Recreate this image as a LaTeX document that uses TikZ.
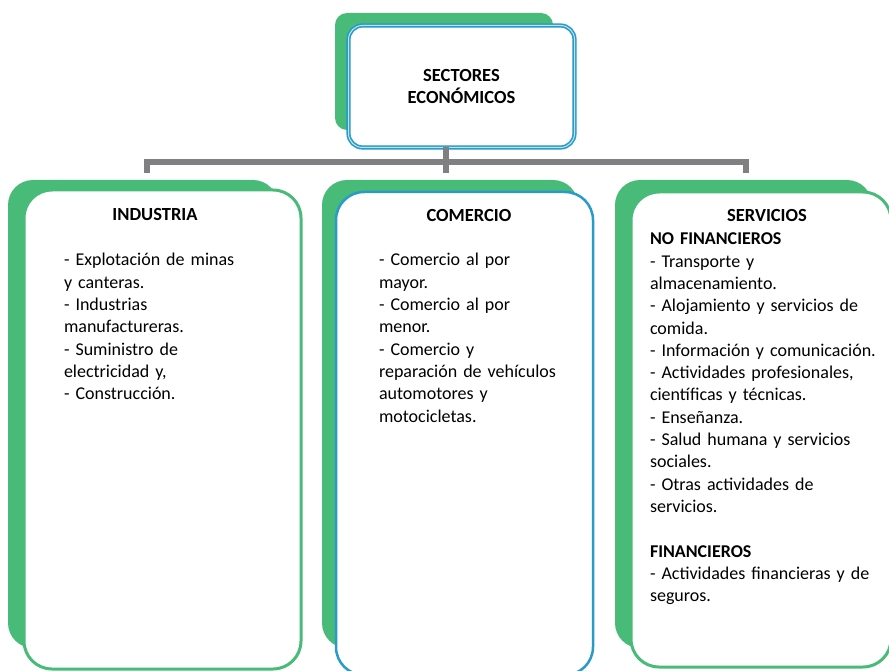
\documentclass[tikz,border=0pt]{standalone}
\usepackage{fontspec}
\setmainfont{Carlito}
\definecolor{sgreen}{RGB}{72,187,121}
\definecolor{sblue}{RGB}{40,155,200}
\definecolor{sgray}{RGB}{128,128,130}
\definecolor{slight}{RGB}{190,228,242}
\begin{document}
\begin{tikzpicture}[x=1pt,y=-1pt,
  every node/.style={inner sep=0pt,outer sep=0pt},
  backbox/.style={fill=sgreen,rounded corners=25pt},
  frontgreen/.style={draw=sgreen,fill=white,line width=3pt,rounded corners=28pt},
  frontblue/.style={draw=sblue,fill=white,line width=2.5pt,rounded corners=28pt},
  topfront/.style={draw=sblue,fill=white,line width=1.6pt,double=slight,double distance=1pt,rounded corners=14pt},
  conn/.style={draw=sgray,line width=5.5pt},
  txt/.style={font=\fontsize{18}{22.3}\selectfont,align=left,anchor=north west,text width=245pt},
  ttl/.style={font=\fontsize{18.5}{22.3}\selectfont\bfseries}
]
\useasboundingbox (0,0) rectangle (889,671);
% top box
\node[backbox,rounded corners=12pt,minimum width=218pt,minimum height=117pt] (topback) at (444,71.5) {};
\node[topfront,minimum width=226pt,minimum height=122pt,align=center,font=\fontsize{18.5}{22.8}\selectfont\bfseries] (top) at (461.5,86.5) {SECTORES\\ECONÓMICOS};
% connectors
\coordinate (hub) at (446,162);
\coordinate (d1) at (147,173);
\coordinate (d2) at (446,173);
\coordinate (d3) at (746,173);
\draw[conn] (top.south -| hub) -- (d2);
\draw[conn] (d1) |- (hub) -| (d3);
% left column
\node[backbox,minimum width=270pt,minimum height=468pt] (indback) at (143,414) {};
\node[frontgreen,minimum width=277pt,minimum height=479pt] (ind) at (162.5,429.5) {};
% middle column
\node[backbox,minimum width=256pt,minimum height=468pt] (comback) at (450,414) {};
\node[frontblue,minimum width=257pt,minimum height=483pt] (com) at (464.5,433.5) {};
% right column
\node[backbox,minimum width=257pt,minimum height=468pt] (serback) at (743.5,414) {};
\node[frontgreen,minimum width=260pt,minimum height=475pt] (ser) at (761,429.5) {};
% titles
\node[ttl] (indt) at (155,215) {INDUSTRIA};
\node[ttl] (comt) at (469,215) {COMERCIO};
\node[ttl] (sert) at (767,215) {SERVICIOS};
% lists
\node[txt] (indl) at (64,253.5) {- Explotación de minas\\y canteras.\\- Industrias\\manufactureras.\\- Suministro de\\electricidad y,\\- Construcción.};
\node[txt] (coml) at (379,253.5) {- Comercio al por\\mayor.\\- Comercio al por\\menor.\\- Comercio y\\reparación de vehículos\\automotores y\\motocicletas.};
\node[txt] (serl) at (650,233) {\textbf{NO FINANCIEROS}\\- Transporte y\\almacenamiento.\\- Alojamiento y servicios de\\comida.\\- Información y comunicación.\\- Actividades profesionales,\\científicas y técnicas.\\- Enseñanza.\\- Salud humana y servicios\\sociales.\\- Otras actividades de\\servicios.\\[22.3pt]\textbf{FINANCIEROS}\\- Actividades financieras y de\\seguros.};
\end{tikzpicture}
\end{document}
